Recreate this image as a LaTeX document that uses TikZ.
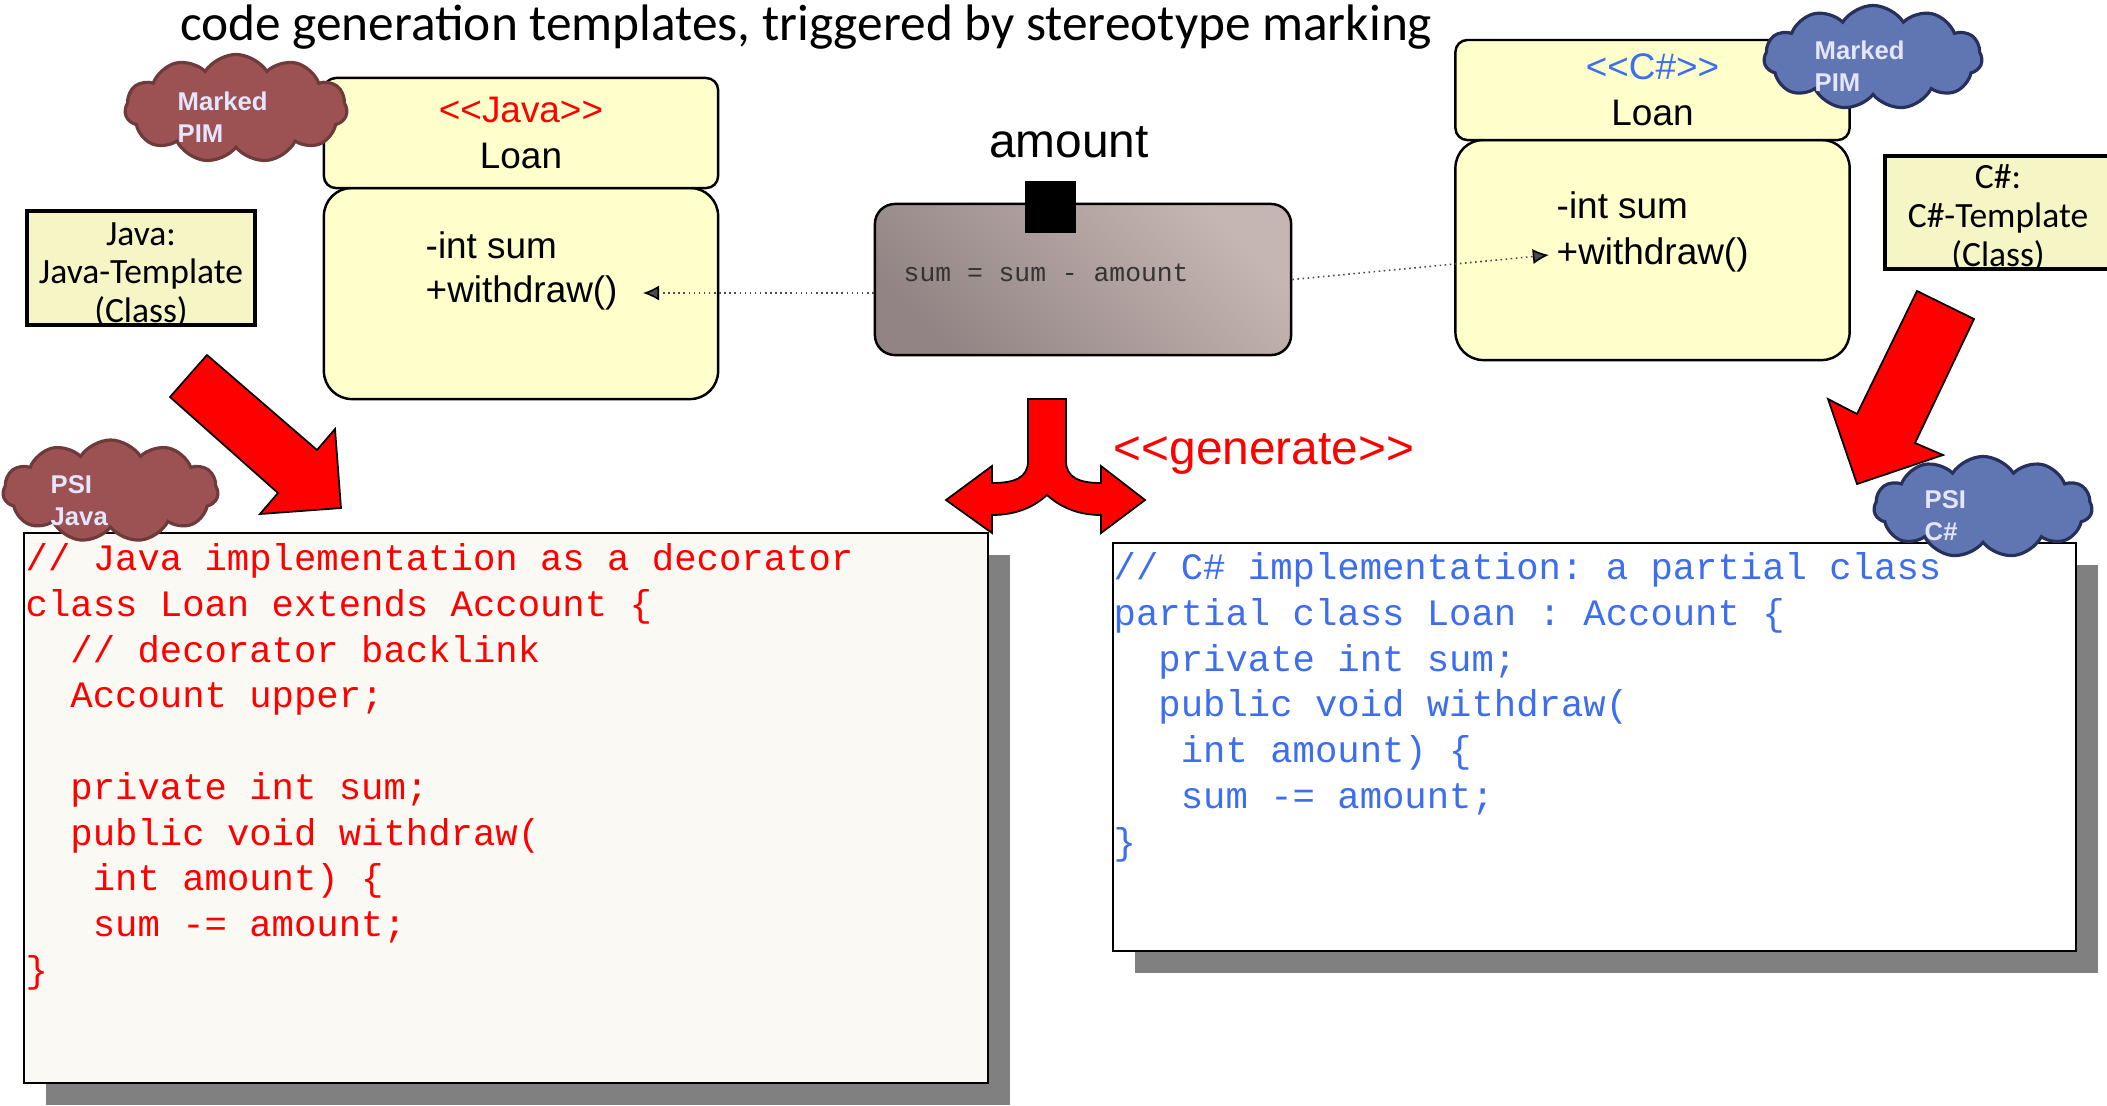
\documentclass[tikz,border=0pt]{standalone}
\usepackage{fontspec}
\setmainfont{Liberation Sans}
\setmonofont{Liberation Mono}
\newfontfamily\calibri{Carlito}
\usepackage{tikz}
\usetikzlibrary{arrows.meta}
\usetikzlibrary{shapes.symbols}
\usetikzlibrary{shadows}

\definecolor{umlyellow}{HTML}{FFFFCC}
\definecolor{tplyellow}{HTML}{F5F5C6}
\definecolor{codepaper}{HTML}{FAF9F4}
\definecolor{psibrown}{HTML}{9C5252}
\definecolor{psibrowndark}{HTML}{6E3A3A}
\definecolor{psiblue}{HTML}{5F76B3}
\definecolor{psibluedark}{HTML}{26305A}
\definecolor{csblue}{HTML}{3D6EF0}
\definecolor{actdark}{HTML}{8C7F7F}
\definecolor{actlight}{HTML}{C6B6B3}

\tikzset{
    umlhead/.style={draw=black, line width=0.7pt, fill=umlyellow, rounded corners=0.12cm, minimum width=3.94cm, inner sep=0pt, align=center, font=\fontsize{10.5}{13.1}\selectfont},
    umlbody/.style={draw=black, line width=0.7pt, fill=umlyellow, rounded corners=0.28cm, minimum width=3.94cm},
    umltext/.style={anchor=west, inner sep=0pt, font=\fontsize{10.5}{12.6}\selectfont},
    tplbox/.style={draw=black, line width=1pt, fill=tplyellow},
    tpltext/.style={inner sep=0pt, align=center, font=\calibri\fontsize{10.1}{11}\selectfont},
    pimcloud/.style={shape=cloud, cloud puffs=11, cloud puff arc=115, cloud ignores aspect, line width=0.9pt},
    cloudtext/.style={anchor=west, align=left, inner sep=0pt, text=white!90!blue, font=\bfseries\fontsize{7.3}{9.1}\selectfont},
    codebox/.style={draw=black, line width=0.6pt, drop shadow={shadow xshift=0.22cm, shadow yshift=-0.22cm, fill=black!50, opacity=1}},
    codetext/.style={anchor=north west, align=left, inner sep=0pt, font=\ttfamily\fontsize{10.6}{13}\selectfont},
    linkarrow/.style={-{Latex[length=4.6pt, width=4.3pt, black]}, densely dotted, gray!60!black, line width=0.45pt},
    bigarrow/.style={fill=red, draw=black, line width=0.5pt, line join=miter}
}

\begin{document}
\begin{tikzpicture}[x=0.01cm, y=-0.01cm]
    \useasboundingbox (0,0) rectangle (2107,1105);
    \fill[white] (0,0) rectangle (2107,1105);

    \node[font=\calibri\fontsize{14.6}{17}\selectfont, anchor=base] (title) at (806,40) {code generation templates, triggered by stereotype marking};

    % code panels
    \node[codebox, fill=codepaper, minimum width=9.64cm, minimum height=5.50cm] (jpanel) at (506,808) {};
    \node[codebox, fill=white, minimum width=9.63cm, minimum height=4.08cm] (cpanel) at (1594.5,747) {};

    \node[codetext, text=red] (jcode) at (25,543) {//~Java~implementation~as~a~decorator\\class~Loan~extends~Account~\{\\~~//~decorator~backlink\\~~Account~upper;\\\mbox{}\\~~private~int~sum;\\~~public~void~withdraw(\\~~~int~amount)~\{\\~~~sum~-=~amount;\\\}};
    \node[codetext, text=csblue] (ccode) at (1113,552) {//~C\#~implementation:~a~partial~class\\partial~class~Loan~:~Account~\{\\~~private~int~sum;\\~~public~void~withdraw(\\~~~int~amount)~\{\\~~~sum~-=~amount;\\\}};

    % Java class
    \node[umlbody, minimum height=2.11cm] (jbody) at (521,293.5) {};
    \node[umlhead, minimum height=1.10cm] (jhead) at (521,133) {\textcolor{red}{<{}<Java>{}>}\\Loan};
    \node[umltext] (jsum) at (425,245) {-int sum};
    \node[umltext] (jwd) at (425,293) {+withdraw()};

    % C# class
    \node[umlbody, minimum height=2.20cm] (cbody) at (1652.5,250) {};
    \node[umlhead, minimum height=1.00cm] (chead) at (1652.5,90) {\textcolor{csblue}{<{}<C\#>{}>}\\Loan};
    \node[umltext] (csum) at (1556,205) {-int sum};
    \node[umltext] (cwd) at (1556,255) {+withdraw()};

    % templates
    \node[tplbox, minimum width=2.28cm, minimum height=1.14cm] (jtpl) at (141,268) {};
    \node[tpltext] (jtpltext) at (141,275) {Java:\\Java-Template\\(Class)};
    \node[tplbox, minimum width=2.30cm, minimum height=1.13cm] (ctpl) at (2000,212.5) {};
    \node[tpltext] (ctpltext) at (1998,218) {C\#:\\C\#-Template\\(Class)};

    % activity
    \node[font=\fontsize{13.6}{16}\selectfont, anchor=base] (amountlabel) at (1069,157) {amount};
    \node[draw=black, line width=0.7pt, rounded corners=0.2cm, top color=actlight, bottom color=actdark!90!actlight, shading angle=-45, minimum width=4.16cm, minimum height=1.51cm] (act) at (1083,279.5) {};
    \node[fill=black, minimum size=0.51cm, inner sep=0pt] (pin) at (1050,207) {};
    \node[anchor=west, inner sep=0pt, text=black!80, font=\ttfamily\fontsize{7.5}{9}\selectfont] (actcode) at (903,273) {sum = sum - amount};

    \path[linkarrow] (jwd -| act.west) edge ([xshift=7pt]jwd.east);
    \path[linkarrow] (act.east) edge ([xshift=-2pt]cwd.west);

    % big arrows
    \draw[bigarrow] (207,355) -- (317,450) -- (335,429) -- (341,508) -- (260,514) -- (278,493) -- (170,397) -- cycle;
    \draw[bigarrow] (1917,291) -- (1974,319) -- (1915,443) -- (1943,455) -- (1857,484) -- (1828,399) -- (1857,414) -- cycle;
    \draw[bigarrow] (1028,399) -- (1066,399) -- (1066,461)
        .. controls (1066,478) and (1080,483) .. (1101,483) -- (1101,466) -- (1145,500) -- (1101,533) -- (1101,515)
        .. controls (1075,515) and (1058,505) .. (1047,495)
        .. controls (1036,505) and (1019,515) .. (992,515) -- (992,533) -- (946,500) -- (992,466) -- (992,483)
        .. controls (1014,483) and (1028,478) .. (1028,461) -- cycle;
    \node[text=red, font=\fontsize{13.6}{16}\selectfont, anchor=base] (genlabel) at (1264,464) {<{}<generate>{}>};

    % clouds
    \node[pimcloud, fill=psibrown, draw=psibrowndark, minimum width=2.22cm, minimum height=1.08cm] (jpim) at (236,108.5) {};
    \node[cloudtext] (jpimtext) at (177,117) {Marked\\PIM};
    \node[pimcloud, fill=psibrown, draw=psibrowndark, minimum width=2.15cm, minimum height=1.02cm] (jpsi) at (110.5,491) {};
    \node[cloudtext] (jpsitext) at (50,501) {PSI\\Java};
    \node[pimcloud, fill=psiblue, draw=psibluedark, minimum width=2.18cm, minimum height=1.04cm] (cpim) at (1873,57.5) {};
    \node[cloudtext] (cpimtext) at (1814,66) {Marked\\PIM};
    \node[pimcloud, fill=psiblue, draw=psibluedark, minimum width=2.18cm, minimum height=1.01cm] (cpsi) at (1983,507) {};
    \node[cloudtext] (cpsitext) at (1924,516) {PSI\\C\#};
\end{tikzpicture}
\end{document}
